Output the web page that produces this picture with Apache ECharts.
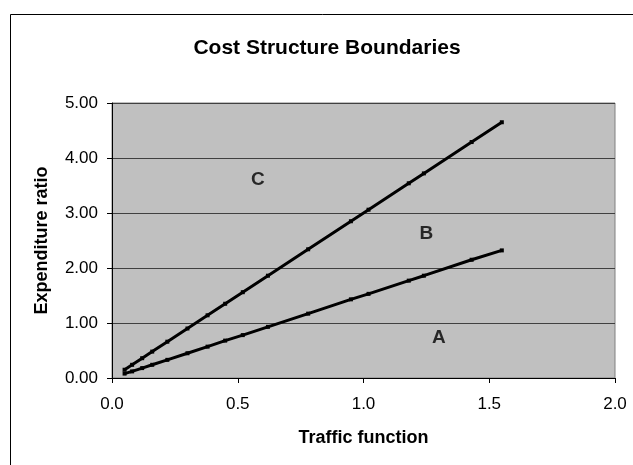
<!DOCTYPE html>
<html>
<head>
<meta charset="utf-8">
<script src="https://cdn.jsdelivr.net/npm/echarts@6/dist/echarts.min.js"></script>
<style>
  html, body { margin: 0; padding: 0; background: #fff; }
  #chart { width: 633px; height: 465px; }
</style>
</head>
<body>
<div id="chart"></div>
<script>
// Traffic function values sampled along both boundaries
const trafficX = [0.05, 0.08, 0.12, 0.16, 0.22, 0.30, 0.38, 0.45, 0.52, 0.62, 0.78, 0.95, 1.02, 1.18, 1.24, 1.43, 1.55];
// Upper boundary (between regions B and C)
const upperBoundary = [0.15, 0.24, 0.36, 0.48, 0.66, 0.90, 1.14, 1.35, 1.56, 1.86, 2.34, 2.85, 3.06, 3.54, 3.72, 4.29, 4.65];
// Lower boundary (between regions A and B)
const lowerBoundary = [0.08, 0.12, 0.18, 0.24, 0.33, 0.45, 0.57, 0.68, 0.78, 0.93, 1.17, 1.43, 1.53, 1.77, 1.86, 2.15, 2.32];
// Region labels placed in data coordinates
const regionLabels = [
  { name: 'C', x: 0.58, y: 3.60 },
  { name: 'B', x: 1.25, y: 2.63 },
  { name: 'A', x: 1.30, y: 0.73 }
];

const font = 'Liberation Sans, Arial, sans-serif';

const chart = echarts.init(document.getElementById('chart'), null, { renderer: 'canvas' });

function pairs(xs, ys) { return xs.map((x, i) => [x, ys[i]]); }

const lineStyle = { color: '#000', width: 3 };

chart.setOption({
  animation: false,
  backgroundColor: '#fff',
  title: {
    text: 'Cost Structure Boundaries',
    left: 322, top: 33, textAlign: 'center',
    textStyle: { fontFamily: font, fontWeight: 'bold', fontSize: 21, color: '#000' }
  },
  graphic: [
    { type: 'rect', left: 8, top: 12, shape: { width: 700, height: 500 },
      style: { fill: 'none', stroke: '#000', lineWidth: 1 }, z: -1, silent: true }
  ],
  grid: {
    left: 112, right: 18, top: 103, bottom: 87,
    show: true, backgroundColor: '#c0c0c0', borderColor: '#808080', borderWidth: 1
  },
  xAxis: {
    type: 'value', min: 0, max: 2, interval: 0.5,
    name: 'Traffic function', nameLocation: 'middle', nameGap: 51,
    nameTextStyle: { fontFamily: font, fontWeight: 'bold', fontSize: 18, color: '#000' },
    axisLine: { show: true, onZero: false, lineStyle: { color: '#000', width: 1 } },
    axisTick: { show: true, inside: false, length: 5, lineStyle: { color: '#000' } },
    axisLabel: {
      fontFamily: font, fontSize: 17, color: '#000', margin: 18,
      formatter: v => v.toFixed(1)
    },
    splitLine: { show: false }
  },
  yAxis: {
    type: 'value', min: 0, max: 5, interval: 1,
    name: 'Expenditure ratio', nameLocation: 'middle', nameGap: 61, nameRotate: 90,
    nameTextStyle: { fontFamily: font, fontWeight: 'bold', fontSize: 18, color: '#000' },
    axisLine: { show: true, lineStyle: { color: '#000', width: 1 } },
    axisTick: { show: true, inside: false, length: 5, lineStyle: { color: '#000' } },
    axisLabel: {
      fontFamily: font, fontSize: 17, color: '#000', margin: 14,
      formatter: v => v.toFixed(2)
    },
    splitLine: { show: true, lineStyle: { color: '#404040', width: 1 } }
  },
  series: [
    {
      type: 'line', name: 'Upper', data: pairs(trafficX, upperBoundary),
      lineStyle, symbol: 'rect', symbolSize: 4, showSymbol: true,
      itemStyle: { color: '#000' }, z: 3
    },
    {
      type: 'line', name: 'Lower', data: pairs(trafficX, lowerBoundary),
      lineStyle, symbol: 'rect', symbolSize: 4, showSymbol: true,
      itemStyle: { color: '#000' }, z: 3
    },
    {
      type: 'scatter', name: 'Regions', symbolSize: 0,
      data: regionLabels.map(r => ({ name: r.name, value: [r.x, r.y] })),
      label: {
        show: true, position: 'inside', formatter: p => p.name,
        fontFamily: font, fontWeight: 'bold', fontSize: 19, color: '#000'
      },
      z: 4
    }
  ]
});
</script>
</body>
</html>
